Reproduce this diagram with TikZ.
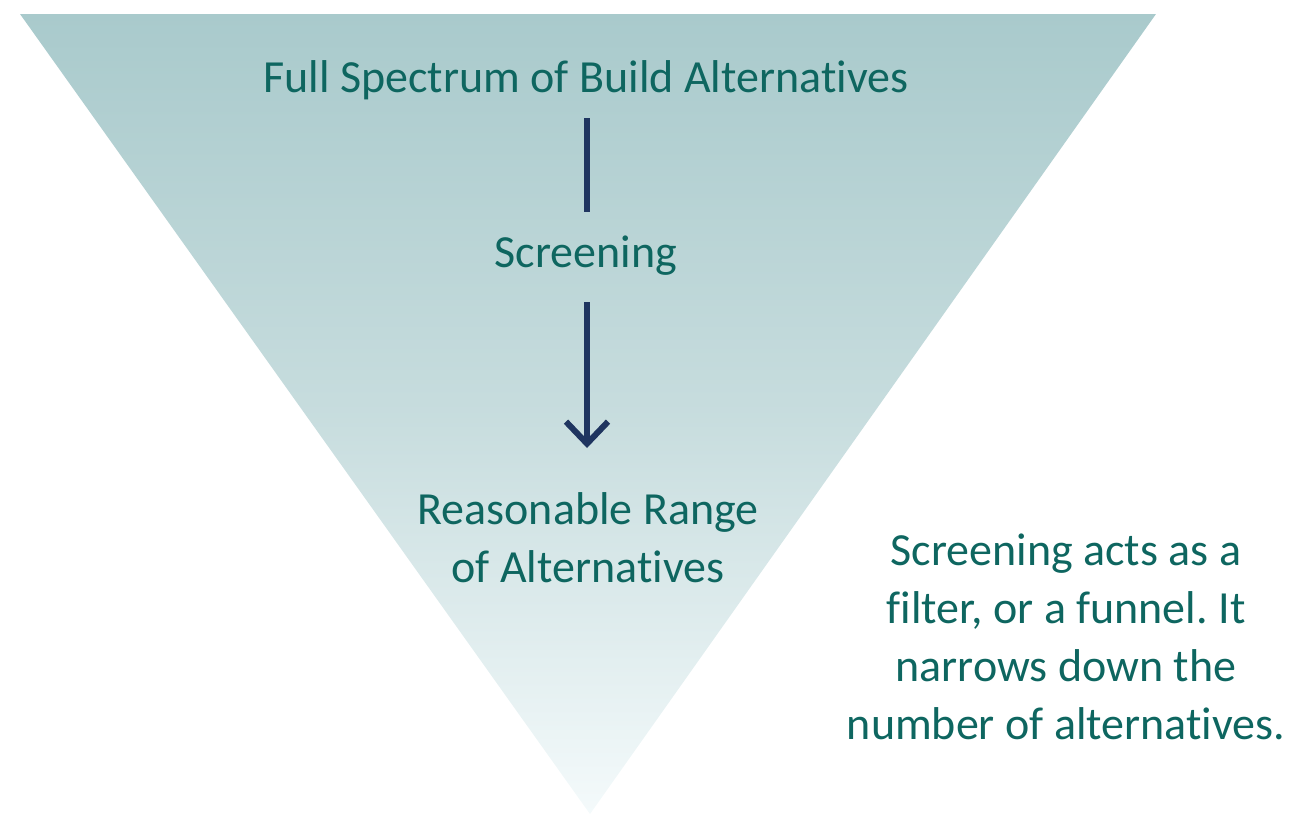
\documentclass[tikz,border=0pt]{standalone}
\usepackage{fontspec}
\setmainfont[Ligatures={NoCommon}]{Carlito}
\usetikzlibrary{arrows.meta}
\definecolor{tealtext}{HTML}{0E6660}
\definecolor{navy}{HTML}{1F3560}
\definecolor{funneltop}{HTML}{A9CACC}
\definecolor{funnelbot}{HTML}{F4FAFB}
\tikzset{
  lbl/.style={text=tealtext, font=\fontsize{46}{58}\selectfont, inner sep=0pt, align=center},
  conn/.style={draw=navy, line width=6pt},
}
\frenchspacing
\begin{document}
\begin{tikzpicture}[x=1pt,y=-1pt]
\useasboundingbox (0,0) rectangle (1291,814);
\shade[top color=funneltop, bottom color=funnelbot, middle color=funneltop!65!white] (20,14) -- (1156,14) -- (590,814) -- cycle;
\node[lbl] (full) at (586,80) {Full Spectrum of Build Alternatives};
\node[lbl] (scr) at (586,256) {Screening};
\node[lbl] (rr) at (588,538) {Reasonable Range\\of Alternatives};
\node[lbl] (note) at (1066,637) {Screening acts as a\\filter, or a funnel. It\\narrows down the\\number of alternatives.};
\coordinate (a1) at (587,118);
\coordinate (a2) at (587,212);
\coordinate (b1) at (587,302);
\coordinate (b2) at (587,448);
\draw[conn] (a1) -- (a2);
\draw[conn, -{Straight Barb[length=22pt,width=42pt,line width=6pt]}] (b1) -- (b2);
\end{tikzpicture}
\end{document}
